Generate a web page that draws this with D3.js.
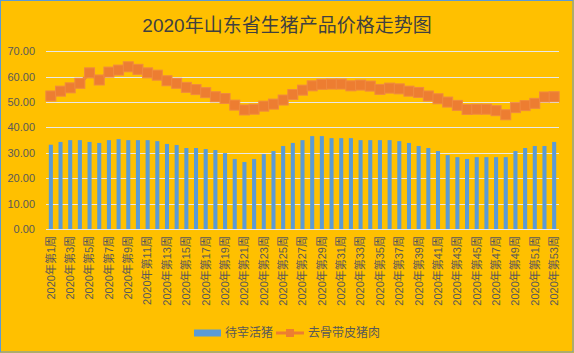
<!DOCTYPE html>
<html>
<head>
<meta charset="utf-8">
<script src="https://cdn.jsdelivr.net/npm/d3@7"></script>
<style>
  body { margin: 0; background: #fff; }
  svg { display: block; }
  text { font-family: "Liberation Sans", "Noto Sans CJK SC", sans-serif; }
</style>
</head>
<body>
<div id="chart"></div>
<script>
const weeks = d3.range(1, 54).map(i => '2020年第' + i + '周');
const livePig = [
    33.2, 34.3, 35.0, 35.0, 34.3, 33.9, 35.0, 35.4, 35.0, 35.0,
    35.0, 34.6, 33.5, 33.1, 31.9, 31.9, 31.5, 31.1, 29.9, 27.6,
    26.4, 27.6, 29.5, 30.7, 32.7, 33.9, 35.0, 36.6, 36.6, 35.8,
    35.8, 35.8, 35.0, 35.0, 35.0, 35.0, 34.6, 33.9, 32.7, 31.9,
    30.7, 29.1, 28.3, 27.6, 28.3, 28.3, 28.3, 28.3, 30.7, 31.9,
    32.7, 32.7, 34.3
];
const porkMeat = [
    52.4, 54.3, 55.6, 57.4, 61.5, 58.7, 61.8, 62.6, 63.9, 62.9,
    61.5, 60.6, 58.4, 57.4, 55.8, 54.9, 53.7, 52.1, 51.4, 48.8,
    46.9, 47.2, 48.4, 49.2, 50.8, 53.0, 54.7, 56.4, 57.0, 57.1,
    57.1, 56.4, 56.7, 56.3, 55.0, 55.5, 55.2, 54.3, 53.8, 52.4,
    51.3, 50.0, 48.7, 47.1, 47.2, 47.2, 46.6, 45.0, 47.8, 48.6,
    49.5, 52.0, 52.1
];
const yTicks = [0, 10, 20, 30, 40, 50, 60, 70];
const seriesNames = ['待宰活猪', '去骨带皮猪肉'];

const W = 574, H = 353;
const plotLeft = 46, plotRight = 559, plotTop = 51.3, plotBottom = 229;

const svg = d3.select('#chart').append('svg')
    .attr('width', W).attr('height', H);

svg.append('rect').attr('width', W).attr('height', H).attr('fill', '#FFC000');
svg.append('rect').attr('x', 0.5).attr('y', 0.5).attr('width', W - 1.5).attr('height', H - 1.5)
    .attr('fill', 'none').attr('stroke', '#5B9BD5').attr('stroke-width', 1);

svg.append('text')
    .attr('x', 287).attr('y', 32)
    .attr('text-anchor', 'middle')
    .attr('font-size', 19)
    .attr('font-family', '"Noto Sans CJK SC", sans-serif')
    .attr('fill', '#404040')
    .text('2020年山东省生猪产品价格走势图');

const x = d3.scaleBand().domain(weeks).range([plotLeft, plotRight]).paddingInner(0.58).paddingOuter(0.29);
const y = d3.scaleLinear().domain([0, 70]).range([plotBottom, plotTop]);

// grid
svg.append('g').selectAll('line').data(yTicks).enter().append('line')
    .attr('x1', plotLeft).attr('x2', plotRight)
    .attr('y1', d => Math.round(y(d)) + 0.5).attr('y2', d => Math.round(y(d)) + 0.5)
    .attr('stroke', '#E8E8E8').attr('stroke-width', 1);

// y axis labels
const yAxis = svg.append('g')
    .attr('transform', 'translate(' + (plotLeft - 8) + ',0)')
    .call(d3.axisLeft(y).tickValues(yTicks).tickSize(0).tickFormat(d3.format('.2f')));
yAxis.select('.domain').remove();
yAxis.selectAll('text')
    .attr('font-size', 11).attr('fill', '#595959')
    .attr('font-family', '"Liberation Sans", sans-serif');

// bars
svg.append('g').selectAll('rect').data(livePig).enter().append('rect')
    .attr('x', (d, i) => x(weeks[i]))
    .attr('width', x.bandwidth())
    .attr('y', d => y(d))
    .attr('height', d => y(0) - y(d))
    .attr('fill', '#5B9BD5');

// axis line
svg.append('line')
    .attr('x1', plotLeft).attr('x2', plotRight)
    .attr('y1', Math.round(y(0)) + 0.5).attr('y2', Math.round(y(0)) + 0.5)
    .attr('stroke', '#E8E8E8');

// x labels
const xAxis = svg.append('g')
    .attr('transform', 'translate(0,' + (plotBottom + 7) + ')')
    .call(d3.axisBottom(x).tickValues(weeks.filter((d, i) => i % 2 === 0)).tickSize(0));
xAxis.select('.domain').remove();
xAxis.selectAll('text')
    .attr('font-size', 11).attr('fill', '#595959')
    .attr('font-family', '"Noto Sans CJK SC", sans-serif')
    .attr('text-anchor', 'end')
    .attr('transform', 'rotate(-90)')
    .attr('x', 0).attr('y', 0).attr('dy', '0.35em');

// line
const cx = i => x(weeks[i]) + x.bandwidth() / 2;
const line = d3.line().x((d, i) => cx(i)).y(d => y(d));
svg.append('path').datum(porkMeat)
    .attr('d', line)
    .attr('fill', 'none')
    .attr('stroke', '#ED7D31')
    .attr('stroke-width', 3.5);
svg.append('g').selectAll('rect').data(porkMeat).enter().append('rect')
    .attr('x', (d, i) => cx(i) - 5)
    .attr('y', d => y(d) - 5)
    .attr('width', 10).attr('height', 10)
    .attr('fill', '#ED7D31')
    .attr('stroke', '#F08A40').attr('stroke-width', 1);

// legend
const lg = svg.append('g').attr('transform', 'translate(0,333)');
lg.append('rect').attr('x', 194).attr('y', -3.5).attr('width', 27).attr('height', 7).attr('fill', '#5B9BD5');
lg.append('text').attr('x', 225).attr('y', 0).attr('dy', '0.35em')
    .attr('font-size', 12).attr('fill', '#595959')
    .attr('font-family', '"Noto Sans CJK SC", sans-serif')
    .text(seriesNames[0]);
lg.append('line').attr('x1', 276).attr('x2', 304).attr('y1', 0).attr('y2', 0)
    .attr('stroke', '#ED7D31').attr('stroke-width', 3);
lg.append('rect').attr('x', 286).attr('y', -4).attr('width', 8).attr('height', 8).attr('fill', '#ED7D31');
lg.append('text').attr('x', 308).attr('y', 0).attr('dy', '0.35em')
    .attr('font-size', 12).attr('fill', '#595959')
    .attr('font-family', '"Noto Sans CJK SC", sans-serif')
    .text(seriesNames[1]);
</script>
</body>
</html>
